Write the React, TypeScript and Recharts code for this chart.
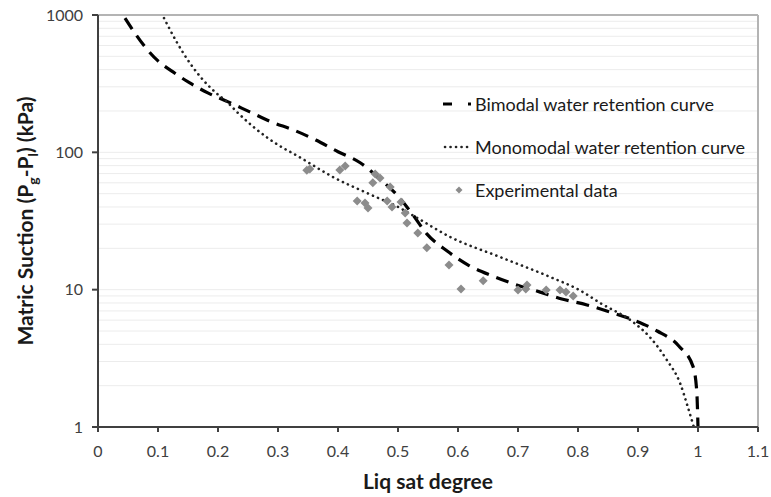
import React from 'react';
import { ComposedChart, Line, Scatter, XAxis, YAxis, ReferenceLine } from 'recharts';

const bimodalX = [0.045, 0.077, 0.1, 0.125, 0.153, 0.183, 0.217, 0.253, 0.29, 0.325, 0.363, 0.4, 0.437, 0.468, 0.502, 0.525, 0.548, 0.582, 0.617, 0.657, 0.693, 0.737, 0.773, 0.815, 0.853, 0.897, 0.932, 0.968, 0.992, 0.998, 1.0];
const bimodalY = [950, 596, 463, 385, 320, 271, 233, 197, 166, 146, 123, 101, 84, 65, 47, 35, 25.5, 19.1, 15.1, 12.6, 11, 9.6, 8.56, 7.74, 6.88, 5.9, 5.0, 3.89, 2.74, 1.8, 1.0];

const monoX = [0.11, 0.132, 0.153, 0.175, 0.195, 0.215, 0.233, 0.283, 0.34, 0.392, 0.448, 0.503, 0.532, 0.587, 0.67, 0.753, 0.803, 0.837, 0.892, 0.92, 0.948, 0.97, 0.983, 0.993];
const monoY = [950, 626, 448, 337, 275, 233, 194, 127, 90, 66, 50.6, 39.4, 33.3, 24.2, 17.3, 12.4, 9.9, 8.0, 5.8, 4.5, 3.08, 2.09, 1.4, 1.0];

const expX = [0.348, 0.353, 0.403, 0.412, 0.462, 0.47, 0.458, 0.487, 0.432, 0.445, 0.45, 0.482, 0.49, 0.505, 0.512, 0.515, 0.533, 0.548, 0.585, 0.605, 0.642, 0.70, 0.713, 0.715, 0.747, 0.77, 0.78, 0.792];
const expY = [74, 75.5, 74.5, 79.5, 69.6, 65, 60, 56, 44.3, 42.8, 39.4, 44.3, 40, 43.5, 36.2, 30.6, 25.9, 20.2, 15.1, 10.1, 11.6, 9.95, 10.1, 10.8, 9.95, 9.95, 9.6, 9.0];

const xTicks = [0, 0.1, 0.2, 0.3, 0.4, 0.5, 0.6, 0.7, 0.8, 0.9, 1, 1.1];
const yTicks = [1, 10, 100, 1000];
const gridValues = [2, 3, 4, 5, 6, 7, 8, 9, 10, 20, 30, 40, 50, 60, 70, 80, 90, 100, 200, 300, 400, 500, 600, 700, 800, 900];

const FONT = 'Lato, "Open Sans", sans-serif';
const AXIS = '#404040';

const bimodal = bimodalX.map((x, i) => ({ x, y: bimodalY[i] }));
const mono = monoX.map((x, i) => ({ x, y: monoY[i] }));
const experimental = expX.map((x, i) => ({ x, y: expY[i] }));

function YLabel() {
  return (
    <text transform="translate(33, 221) rotate(-90)" textAnchor="middle" fontFamily={FONT} fontWeight={700} fontSize={21} fill="#1a1a1a">
      <tspan>Matric Suction (P</tspan>
      <tspan fontSize={14} dy={5}>g</tspan>
      <tspan dy={-5}>-P</tspan>
      <tspan fontSize={14} dy={5}>l</tspan>
      <tspan dy={-5}>) (kPa)</tspan>
    </text>
  );
}

function Diamond(props: any) {
  const { cx, cy } = props;
  if (cx == null || cy == null) return null;
  return <path d={`M${cx} ${cy - 4.5} L${cx + 4.5} ${cy} L${cx} ${cy + 4.5} L${cx - 4.5} ${cy} Z`} fill="#8c8c8c" />;
}

function LegendBox() {
  const row: React.CSSProperties = { display: 'flex', alignItems: 'center', height: 43 };
  const text: React.CSSProperties = { fontFamily: FONT, fontSize: 18, color: '#1a1a1a', marginLeft: 2, whiteSpace: 'nowrap' };
  return (
    <div style={{ position: 'absolute', left: 441, top: 82 }}>
      <div style={row}>
        <svg width={32} height={10}>
          <line x1={2} y1={5} x2={11} y2={5} stroke="#000" strokeWidth={3} />
          <line x1={27} y1={5} x2={30} y2={5} stroke="#000" strokeWidth={3} />
        </svg>
        <span style={text}>Bimodal water retention curve</span>
      </div>
      <div style={row}>
        <svg width={32} height={10}>
          <line x1={4} y1={5} x2={31} y2={5} stroke="#222" strokeWidth={2.6} strokeDasharray="0.1 5.4" strokeLinecap="round" />
        </svg>
        <span style={text}>Monomodal water retention curve</span>
      </div>
      <div style={row}>
        <svg width={32} height={10}>
          <path d="M18 1.5 L21.5 5 L18 8.5 L14.5 5 Z" fill="#8c8c8c" />
        </svg>
        <span style={text}>Experimental data</span>
      </div>
    </div>
  );
}

export default function App() {
  return (
    <div style={{ position: 'absolute', left: 0, top: 0, width: 771, height: 497, background: '#fff' }}>
      <ComposedChart width={771} height={497} margin={{ top: 15, right: 13, bottom: 38, left: 0 }}>
        {gridValues.map(v => (
          <ReferenceLine key={v} y={v} stroke="#ececec" strokeWidth={1} />
        ))}
        <ReferenceLine y={1000} stroke="#b4b4b4" strokeWidth={2} />
        <ReferenceLine x={1.1} stroke="#b4b4b4" strokeWidth={2} />
        <XAxis
          type="number"
          dataKey="x"
          domain={[0, 1.1]}
          ticks={xTicks}
          allowDataOverflow
          height={32}
          stroke={AXIS}
          strokeWidth={2}
          tickSize={5}
          tickMargin={14}
          tick={{ fontFamily: FONT, fontSize: 16, fill: '#404040' }}
          label={{ value: 'Liq sat degree', position: 'insideBottom', offset: -30, style: { fontFamily: FONT, fontWeight: 700, fontSize: 21, fill: '#1a1a1a' } }}
        />
        <YAxis
          type="number"
          dataKey="y"
          scale="log"
          domain={[1, 1000]}
          ticks={yTicks}
          allowDataOverflow
          width={98}
          stroke={AXIS}
          strokeWidth={2}
          tickSize={6}
          tickMargin={9}
          tick={{ fontFamily: FONT, fontSize: 16, fill: '#404040' }}
          label={{ content: () => <YLabel /> }}
        />
        <Line data={bimodal} dataKey="y" type="monotone" stroke="#000" strokeWidth={3.2} strokeDasharray="13 8" dot={false} isAnimationActive={false} />
        <Line data={mono} dataKey="y" type="monotone" stroke="#222" strokeWidth={2.6} strokeDasharray="0.1 5.4" strokeLinecap="round" dot={false} isAnimationActive={false} />
        <Scatter data={experimental} dataKey="y" fill="#8c8c8c" shape={<Diamond />} isAnimationActive={false} />
      </ComposedChart>
      <LegendBox />
    </div>
  );
}
